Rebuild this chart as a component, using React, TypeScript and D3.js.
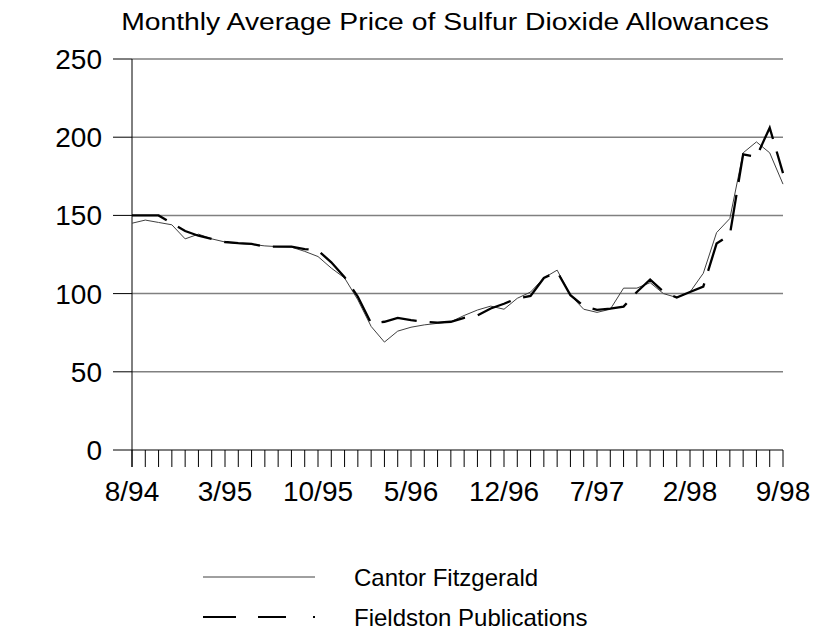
import React from "react";
import * as d3 from "d3";

const monthCount = 50;
const tickLabels = ["8/94", "3/95", "10/95", "5/96", "12/96", "7/97", "2/98", "9/98"];
const tickLabelIndex = [0, 7, 14, 21, 28, 35, 42, 49];
const yTicks = [0, 50, 100, 150, 200, 250];

const cantor = [
  145, 147, 145.5, 144, 135, 138, 135, 133, 132, 131.5,
  130.5, 130, 129.7, 127, 123.7, 116.3, 110, 96, 79, 69,
  76, 78.5, 80, 81, 82, 86, 89.5, 92, 90, 97,
  101, 110, 115, 99, 90, 88, 90, 103.5, 103.5, 107,
  100, 97.5, 101, 113, 139, 148, 190, 197, 190, 170,
];

const fieldston = [
  150, 150, 150, 145, 140, 137, 135, 133, 132.3, 131.8,
  130, 130, 130, 128.5, 127.6, 120, 110.5, 98, 81, 82,
  84.5, 83, 82, 81.5, 82, 84.5, 86, 90.5, 93.5, 97,
  98.5, 110, 114, 99, 92, 89.6, 90.4, 91.7, 101, 109,
  101.3, 97.5, 101, 104.5, 132, 137.6, 189, 187.5, 206, 177,
];

const seriesNames = ["Cantor Fitzgerald", "Fieldston Publications"];
const title = "Monthly Average Price of Sulfur Dioxide Allowances";

export default function App() {
  const W = 816;
  const H = 641;
  const x = d3.scaleLinear().domain([0, monthCount - 1]).range([132, 783]);
  const y = d3.scaleLinear().domain([0, 250]).range([450, 59]);
  const line = d3
    .line<number>()
    .x((_, i) => x(i))
    .y((d) => y(d));
  const font = "'Liberation Sans', Arial, sans-serif";
  const months = d3.range(monthCount);

  return (
    <svg
      width={W}
      height={H}
      style={{ position: "absolute", left: 0, top: 0, background: "#fff" }}
      fontFamily={font}
    >
      <g transform="translate(445,30) scale(1.18,1)">
        <text x={0} y={0} textAnchor="middle" fontSize={24} fill="#000">
          {title}
        </text>
      </g>
      {yTicks.map((t) => (
        <g key={t}>
          {t > 0 && (
            <line x1={x(0)} x2={x(monthCount - 1)} y1={y(t)} y2={y(t)} stroke="#808080" strokeWidth={1.5} />
          )}
          <line x1={113} x2={x(0)} y1={y(t)} y2={y(t)} stroke="#000" strokeWidth={1} />
          <text x={102} y={y(t)} dy="0.36em" textAnchor="end" fontSize={28} fill="#000">
            {t}
          </text>
        </g>
      ))}
      <line x1={x(0)} x2={x(0)} y1={y(250)} y2={467} stroke="#000" strokeWidth={1} />
      <line x1={x(0)} x2={x(monthCount - 1)} y1={y(0)} y2={y(0)} stroke="#000" strokeWidth={1} />
      {months.map((i) => (
        <line key={i} x1={x(i)} x2={x(i)} y1={y(0)} y2={467} stroke="#000" strokeWidth={1} />
      ))}
      {tickLabels.map((l, k) => (
        <text key={l} x={x(tickLabelIndex[k])} y={501} textAnchor="middle" fontSize={28} fill="#000">
          {l}
        </text>
      ))}
      <path d={line(cantor) || ""} fill="none" stroke="#404040" strokeWidth={1} />
      <path
        d={line(fieldston) || ""}
        fill="none"
        stroke="#000"
        strokeWidth={2.3}
        strokeDasharray="36,13"
      />
      <line x1={203} x2={315} y1={577} y2={577} stroke="#404040" strokeWidth={1} />
      <text x={354} y={586} fontSize={24} fill="#000">
        {seriesNames[0]}
      </text>
      <line
        x1={203}
        x2={315}
        y1={617}
        y2={617}
        stroke="#000"
        strokeWidth={2}
        strokeDasharray="33,22,28,27,3,200"
      />
      <text x={354} y={626} fontSize={24} fill="#000">
        {seriesNames[1]}
      </text>
    </svg>
  );
}
